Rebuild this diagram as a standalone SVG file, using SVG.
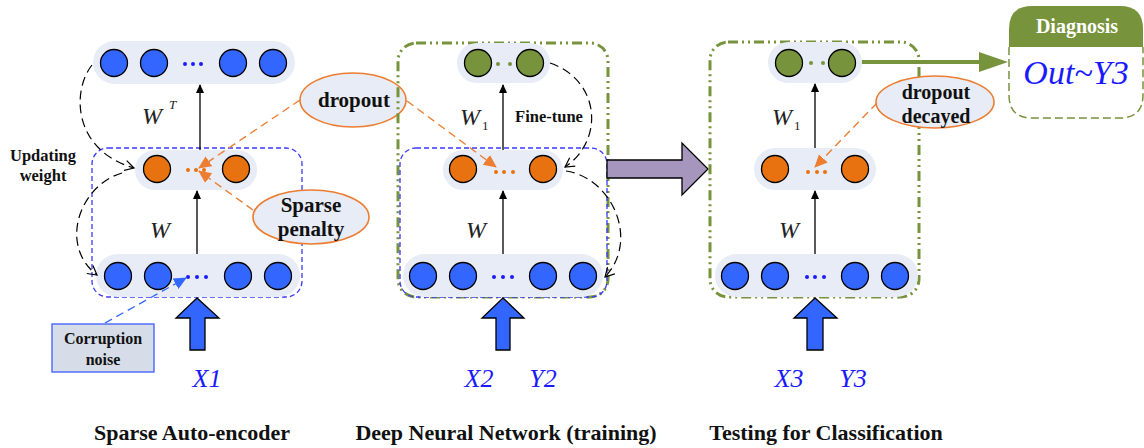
<svg xmlns="http://www.w3.org/2000/svg" width="1144" height="448" viewBox="0 0 1144 448">
<defs>
<style>
.pill{fill:#e7ecf6;stroke:none}
.cb{fill:#3366ff;stroke:#000;stroke-width:1.3}
.co{fill:#e8720f;stroke:#000;stroke-width:1.3}
.cg{fill:#77933c;stroke:#000;stroke-width:1.3}
.db{fill:#1a1aff}
.do{fill:#e8720f}
.dg{fill:#77933c}
.vline{stroke:#000;stroke-width:1.3;fill:none;marker-end:url(#ah)}
.bdash{fill:none;stroke:#3a3aff;stroke-width:1.3;stroke-dasharray:5 3}
.gdash{fill:none;stroke:#77933c;stroke-width:3;stroke-dasharray:10 4 2 4 2 4}
.kdash{fill:none;stroke:#000;stroke-width:1.2;stroke-dasharray:9 5;marker-end:url(#oa)}
.odash{fill:none;stroke:#ed7d31;stroke-width:1.4;stroke-dasharray:8 5;marker-end:url(#orh)}
.ell{fill:#e7ecf6;stroke:#ed7d31;stroke-width:1.6}
.bt{font-family:"Liberation Serif","Times New Roman",serif;font-weight:bold;fill:#111}
.it{font-family:"Liberation Serif","Times New Roman",serif;font-style:italic}
.bigup{fill:#3366ff;stroke:#000;stroke-width:1.3}
</style>
<marker id="ah" markerWidth="10" markerHeight="10" refX="8" refY="5" orient="auto" markerUnits="userSpaceOnUse"><path d="M0,1 L9,5 L0,9 Z" fill="#000"/></marker>
<marker id="oa" markerWidth="12" markerHeight="12" refX="10" refY="6" orient="auto" markerUnits="userSpaceOnUse"><path d="M1,1 L10,6 L1,11" fill="none" stroke="#000" stroke-width="1.2"/></marker>
<marker id="orh" markerWidth="14" markerHeight="14" refX="12" refY="7" orient="auto" markerUnits="userSpaceOnUse"><path d="M0,1 L13,7 L0,13 Z" fill="#ed7d31"/></marker>
<marker id="bh" markerWidth="14" markerHeight="14" refX="12" refY="7" orient="auto" markerUnits="userSpaceOnUse"><path d="M0,1 L13,7 L0,13 Z" fill="#3366ff"/></marker>
</defs>

<!-- Panel 1: Sparse Auto-encoder -->
<g id="sae-top">
<rect class="pill" x="93" y="41" width="202" height="43" rx="21.5"/>
<circle class="cb" cx="114" cy="63" r="13.5"/><circle class="cb" cx="154" cy="63" r="13.5"/>
<circle class="db" cx="185" cy="64" r="2"/><circle class="db" cx="193" cy="64" r="2"/><circle class="db" cx="201" cy="64" r="2"/>
<circle class="cb" cx="233" cy="63" r="13.5"/><circle class="cb" cx="273" cy="63" r="13.5"/>
</g>
<g id="sae-box"><rect class="bdash" x="92" y="148" width="210" height="149" rx="16"/></g>
<g id="sae-mid">
<rect class="pill" x="135" y="150" width="122" height="40" rx="20"/>
<circle class="co" cx="157" cy="169" r="13.5"/><circle class="co" cx="236" cy="169" r="13.5"/>
<circle class="do" cx="188" cy="170" r="2"/><circle class="do" cx="196" cy="170" r="2"/><circle class="do" cx="204" cy="170" r="2"/>
</g>
<g id="sae-bot">
<rect class="pill" x="96" y="254" width="204" height="43" rx="21.5"/>
<circle class="cb" cx="118" cy="276" r="13.5"/><circle class="cb" cx="158" cy="276" r="13.5"/>
<circle class="db" cx="188" cy="277" r="2"/><circle class="db" cx="197" cy="277" r="2"/><circle class="db" cx="206" cy="277" r="2"/>
<circle class="cb" cx="238" cy="276" r="13.5"/><circle class="cb" cx="278" cy="276" r="13.5"/>
</g>
<g id="sae-dropout"><ellipse class="ell" cx="353" cy="100" rx="53" ry="27"/><text class="bt" x="354" y="107" font-size="21" text-anchor="middle">dropout</text></g>
<g id="sae-sparse"><ellipse class="ell" cx="311" cy="217" rx="58" ry="27"/><text class="bt" x="311" y="212" font-size="21" text-anchor="middle">Sparse</text><text class="bt" x="311" y="236" font-size="21" text-anchor="middle">penalty</text></g>
<g id="sae-noise"><rect x="52" y="324" width="102" height="48" fill="#d6dde8" stroke="#3a5cff" stroke-width="1.3"/><text class="bt" x="103" y="344" font-size="16" text-anchor="middle">Corruption</text><text class="bt" x="103" y="365" font-size="16" text-anchor="middle">noise</text></g>
<g id="sae-input"><polygon class="bigup" points="197,298 176,318 190,318 190,350 205,350 205,318 219,318"/><text class="it" x="207" y="387" font-size="26" fill="#1a1aff" text-anchor="middle">X1</text></g>

<!-- Panel 2: DNN training -->
<g id="dnn-box"><rect class="gdash" x="398" y="43" width="210" height="254" rx="18"/><rect class="bdash" x="400" y="148" width="207" height="149" rx="16"/></g>
<g id="dnn-top">
<rect class="pill" x="457" y="43" width="93" height="40" rx="20"/>
<circle class="cg" cx="478" cy="63" r="13.5"/><circle class="cg" cx="530" cy="63" r="13.5"/>
<circle class="dg" cx="498" cy="64" r="2"/><circle class="dg" cx="510" cy="64" r="2"/>
</g>
<g id="dnn-mid">
<rect class="pill" x="443" y="150" width="120" height="40" rx="20"/>
<circle class="co" cx="463" cy="169" r="13.5"/><circle class="co" cx="543" cy="169" r="13.5"/>
<circle class="do" cx="496" cy="172" r="2"/><circle class="do" cx="504" cy="172" r="2"/><circle class="do" cx="513" cy="172" r="2"/>
</g>
<g id="dnn-bot">
<rect class="pill" x="403" y="254" width="200" height="43" rx="21.5"/>
<circle class="cb" cx="423" cy="276" r="13.5"/><circle class="cb" cx="463" cy="276" r="13.5"/>
<circle class="db" cx="494" cy="277" r="2"/><circle class="db" cx="503" cy="277" r="2"/><circle class="db" cx="512" cy="277" r="2"/>
<circle class="cb" cx="543" cy="276" r="13.5"/><circle class="cb" cx="583" cy="276" r="13.5"/>
</g>
<g id="dnn-input"><polygon class="bigup" points="503,298 482,318 496,318 496,350 510,350 510,318 524,318"/><text class="it" x="479" y="387" font-size="26" fill="#1a1aff" text-anchor="middle">X2</text><text class="it" x="543" y="387" font-size="26" fill="#1a1aff" text-anchor="middle">Y2</text></g>

<!-- Transition arrow -->
<g id="transition"><polygon points="607,160 682,160 682,143 708,169 682,195 682,178 607,178" fill="#a696be" stroke="#000" stroke-width="1.3"/></g>

<!-- Panel 3: Testing -->
<g id="test-box"><rect class="gdash" x="710" y="42" width="209" height="255" rx="18"/></g>
<g id="test-top">
<rect class="pill" x="768" y="42" width="94" height="41" rx="20.5"/>
<circle class="cg" cx="789" cy="63" r="13.5"/><circle class="cg" cx="842" cy="63" r="13.5"/>
<circle class="dg" cx="811" cy="63" r="2"/><circle class="dg" cx="823" cy="63" r="2"/>
</g>
<g id="test-mid">
<rect class="pill" x="754" y="148" width="122" height="42" rx="21"/>
<circle class="co" cx="775" cy="169" r="13.5"/><circle class="co" cx="855" cy="169" r="13.5"/>
<circle class="do" cx="808" cy="172" r="2"/><circle class="do" cx="817" cy="172" r="2"/><circle class="do" cx="825" cy="172" r="2"/>
</g>
<g id="test-bot">
<rect class="pill" x="715" y="254" width="203" height="43" rx="21.5"/>
<circle class="cb" cx="735" cy="276" r="13.5"/><circle class="cb" cx="775" cy="276" r="13.5"/>
<circle class="db" cx="807" cy="277" r="2"/><circle class="db" cx="815" cy="277" r="2"/><circle class="db" cx="824" cy="277" r="2"/>
<circle class="cb" cx="855" cy="276" r="13.5"/><circle class="cb" cx="895" cy="276" r="13.5"/>
</g>
<g id="test-dropout"><ellipse class="ell" cx="935" cy="102" rx="59" ry="26"/><text class="bt" x="936" y="99" font-size="20" text-anchor="middle">dropout</text><text class="bt" x="936" y="123" font-size="20" text-anchor="middle">decayed</text></g>
<g id="test-input"><polygon class="bigup" points="815,298 794,318 807,318 807,350 823,350 823,318 837,318"/><text class="it" x="789" y="387" font-size="26" fill="#1a1aff" text-anchor="middle">X3</text><text class="it" x="853" y="387" font-size="26" fill="#1a1aff" text-anchor="middle">Y3</text></g>
<g id="diagnosis">
<path d="M1009,47 L1009,29 Q1009,6 1032,6 L1120,6 Q1143,6 1143,29 L1143,47 Z" fill="#77933c"/>
<path d="M1009,47 L1009,95 Q1009,118 1032,118 L1120,118 Q1143,118 1143,95 L1143,47" fill="none" stroke="#77933c" stroke-width="1.5" stroke-dasharray="8 4"/>
<text x="1077" y="33" font-family="Liberation Serif,Times New Roman,serif" font-weight="bold" font-size="20" fill="#fff" text-anchor="middle">Diagnosis</text>
<text class="it" x="1076" y="84" font-size="34" fill="#1a1aff" text-anchor="middle">Out~Y3</text>
</g>

<!-- Connectors -->
<g id="connectors">
<line class="vline" x1="200" y1="150" x2="200" y2="85"/>
<line class="vline" x1="197" y1="254" x2="197" y2="191"/>
<line class="vline" x1="503" y1="150" x2="503" y2="85"/>
<line class="vline" x1="503" y1="254" x2="503" y2="191"/>
<line class="vline" x1="815" y1="148" x2="815" y2="84"/>
<line class="vline" x1="815" y1="254" x2="815" y2="191"/>
<path class="kdash" d="M92,65 C72,90 72,150 134,168"/>
<path class="kdash" d="M122,173 C80,185 58,245 97,275"/>
<path class="kdash" d="M550,63 C600,80 605,140 565,167"/>
<path class="kdash" d="M566,171 C612,178 640,240 605,277"/>
<path class="odash" d="M300,100 L199,168"/>
<path class="odash" d="M253,210 L199,171"/>
<path class="odash" d="M407,101 L496,167"/>
<path class="odash" d="M877,103 L815,167"/>
<path d="M105,323 L186,278" fill="none" stroke="#3366ff" stroke-width="1.3" stroke-dasharray="8 5" marker-end="url(#bh)"/>
<line x1="862" y1="62" x2="982" y2="62" stroke="#77933c" stroke-width="4"/>
<polygon points="979,52 1008,62 979,72" fill="#77933c"/>
</g>

<!-- Labels -->
<g id="labels">
<text class="it" x="142" y="124" font-size="24" fill="#222">W</text><text class="it" x="169" y="109" font-size="13" fill="#222">T</text>
<text class="it" x="150" y="238" font-size="24" fill="#222">W</text>
<text class="bt" x="43" y="161" font-size="16.5" text-anchor="middle">Updating</text><text class="bt" x="43" y="181" font-size="16.5" text-anchor="middle">weight</text>
<text class="it" x="460" y="125" font-size="24" fill="#222">W</text><text x="482" y="130" font-family="Liberation Serif,Times New Roman,serif" font-size="13" fill="#222">1</text>
<text class="bt" x="549" y="122" font-size="16.5" text-anchor="middle">Fine-tune</text>
<text class="it" x="466" y="238" font-size="24" fill="#222">W</text>
<text class="it" x="772" y="125" font-size="24" fill="#222">W</text><text x="794" y="130" font-family="Liberation Serif,Times New Roman,serif" font-size="13" fill="#222">1</text>
<text class="it" x="779" y="238" font-size="24" fill="#222">W</text>
<text class="bt" x="192" y="440" font-size="22" text-anchor="middle">Sparse Auto-encoder</text>
<text class="bt" x="506" y="440" font-size="22" text-anchor="middle">Deep Neural Network (training)</text>
<text class="bt" x="826" y="440" font-size="22" text-anchor="middle">Testing for Classification</text>
</g>
</svg>
